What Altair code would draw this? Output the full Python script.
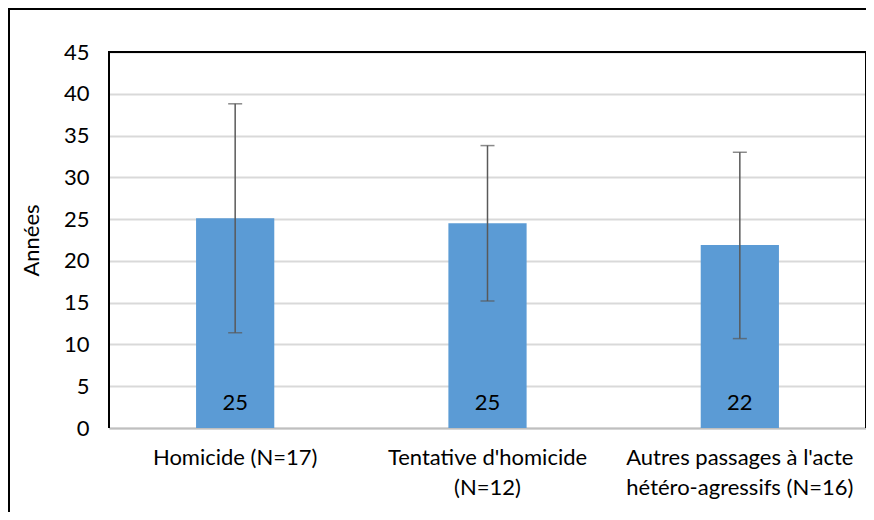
import altair as alt
import pandas as pd

categories = ["Homicide (N=17)", "Tentative d'homicide\n(N=12)", "Autres passages à l'acte\nhétéro-agressifs (N=16)"]
means = [25.1, 24.5, 21.9]
err_low = [11.4, 15.2, 10.7]
err_high = [38.8, 33.8, 33.0]
value_labels = ["25", "25", "22"]
y_ticks = [0, 5, 10, 15, 20, 25, 30, 35, 40, 45]

df = pd.DataFrame({"cat": categories, "mean": means, "lo": err_low, "hi": err_high, "lab": value_labels})

W, H = 757, 376
FONT = "Lato"
FS = 22

x = alt.X("cat:N", sort=categories, title=None,
          scale=alt.Scale(paddingInner=0.69, paddingOuter=0.345),
          axis=alt.Axis(labelAngle=0, labelExpr="split(datum.label, '\\n')", labelFontSize=FS,
                        labelFont=FONT, labelColor="#000000", labelLineHeight=30, labelPadding=19,
                        labelLimit=0, ticks=False, domainColor="#bfbfbf", domainWidth=2, grid=False))

bars = alt.Chart(df).mark_bar(color="#5b9bd5").encode(
    x=x,
    y=alt.Y("mean:Q", title="Années", scale=alt.Scale(domain=[0, 45], nice=False),
            axis=alt.Axis(values=y_ticks, ticks=False, domain=False, labelFontSize=FS, labelFont=FONT,
                          labelColor="#000000", labelPadding=20, titleFont=FONT, titleFontSize=FS,
                          titleFontWeight="normal", titleColor="#000000", titlePadding=20,
                          gridColor="#d9d9d9", gridWidth=2)),
)

rules = alt.Chart(df).mark_rule(color="#595959", strokeWidth=1.5).encode(
    x=alt.X("cat:N", sort=categories), y="lo:Q", y2="hi:Q")
cap_lo = alt.Chart(df).mark_tick(color="#595959", thickness=1.5, size=14, orient="horizontal").encode(
    x=alt.X("cat:N", sort=categories), y="lo:Q")
cap_hi = alt.Chart(df).mark_tick(color="#595959", thickness=1.5, size=14, orient="horizontal").encode(
    x=alt.X("cat:N", sort=categories), y="hi:Q")
texts = alt.Chart(df).mark_text(font=FONT, fontSize=FS, color="#000000", baseline="middle", dy=-25).encode(
    x=alt.X("cat:N", sort=categories), y=alt.datum(0), text="lab:N")

# plot-area border (left, top, right)
border_left = alt.Chart(df).mark_rule(color="#000000", strokeWidth=2).encode(
    x=alt.value(0), y=alt.value(0), y2=alt.value(H))
border_top = alt.Chart(df).mark_rule(color="#000000", strokeWidth=2).encode(
    x=alt.value(-1), x2=alt.value(W + 1), y=alt.value(0))
border_right = alt.Chart(df).mark_rule(color="#000000", strokeWidth=2).encode(
    x=alt.value(W), y=alt.value(0), y2=alt.value(H))

# outer chart frame (left, top)
frame_left = alt.Chart(df).mark_rule(color="#000000", strokeWidth=2).encode(
    x=alt.value(-100), y=alt.value(-43), y2=alt.value(H + 92))
frame_top = alt.Chart(df).mark_rule(color="#000000", strokeWidth=2).encode(
    x=alt.value(-101), x2=alt.value(W + 5), y=alt.value(-43))

chart = alt.layer(bars, rules, cap_lo, cap_hi, texts, border_left, border_top, border_right,
                  frame_left, frame_top).properties(
    width=W, height=H,
    autosize=alt.AutoSizeParams(type="none"),
    padding={"left": 101, "top": 44, "right": 0, "bottom": 84},
).configure_view(stroke=None).configure(background="#ffffff")

chart.save("out.html", embed_options={"renderer": "svg", "actions": False})
